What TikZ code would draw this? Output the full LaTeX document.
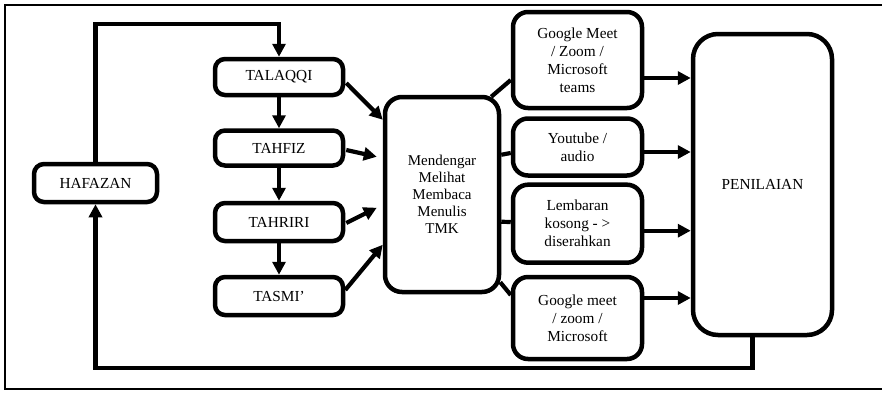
\documentclass[tikz,border=0pt]{standalone}
\usepackage{fontspec}
\setmainfont{Liberation Serif}
\usetikzlibrary{arrows.meta,calc}

\begin{document}
\begin{tikzpicture}[x=1pt,y=-1pt,
  box/.style={draw, line width=4.5pt, rounded corners=#1, inner sep=0pt,
    align=center, font=\fontsize{15.3}{18}\selectfont},
  box/.default=10pt,
  arr/.style={line width=4.2pt, -{Triangle[length=13pt,width=13pt]}},
  link/.style={line width=4.2pt},
  frame/.style={line width=2pt}]
  \useasboundingbox (0,0) rectangle (882,392);

  % outer frame (open on the right)
  \draw[frame] (882,5) -- (5,5) -- (5,389) -- (882,389);

  % left column
  \node[box, minimum width=123pt, minimum height=38pt] (hafazan) at (95.5,183) {HAFAZAN};
  \node[box, minimum width=128pt, minimum height=36pt] (talaqqi) at (279,77) {TALAQQI};
  \node[box, minimum width=128pt, minimum height=35pt] (tahfiz) at (279,148) {TAHFIZ};
  \node[box, minimum width=128pt, minimum height=38pt] (tahriri) at (279,222) {TAHRIRI};
  \node[box, minimum width=128pt, minimum height=38pt] (tasmi) at (279,296) {TASMI’};

  % centre box
  \node[box=17pt, minimum width=114pt, minimum height=195pt,
        font=\fontsize{15}{17}\selectfont] (mid) at (442,194.5)
        {Mendengar\\Melihat\\Membaca\\Menulis\\TMK};

  % media boxes
  \node[box=15pt, minimum width=129pt, minimum height=96pt] (gm) at (577.5,60)
        {Google Meet\\/ Zoom /\\Microsoft\\teams};
  \node[box=15pt, minimum width=129pt, minimum height=57pt] (yt) at (577.5,147)
        {Youtube /\\audio};
  \node[box=15pt, minimum width=129pt, minimum height=78pt] (lk) at (577.5,223.7)
        {Lembaran\\kosong - >\\diserahkan};
  \node[box=15pt, minimum width=129pt, minimum height=82pt] (gmb) at (577.5,318)
        {Google meet\\/ zoom /\\Microsoft};

  % assessment box
  \node[box=25pt, minimum width=139pt, minimum height=301pt] (pen) at (762.5,184.5) {PENILAIAN};

  % sequence down the left column
  \draw[arr] (talaqqi.south) -- (tahfiz.north);
  \draw[arr] (tahfiz.south) -- (tahriri.north);
  \draw[arr] (tahriri.south) -- (tasmi.north);

  % into the centre box
  \draw[arr] ($(talaqqi.east)+(1,6)$) -- ($(mid.north west)+(0,25)$);
  \draw[arr] ($(tahfiz.east)+(1,2)$) -- ($(mid.north west)+(-6,62)$);
  \draw[arr] ($(tahriri.east)+(1,1)$) -- ($(mid.north west)+(-6,113)$);
  \draw[arr] ($(tasmi.east)+(0,-6)$) -- ($(mid.north west)+(0,150)$);

  % centre box to media boxes
  \draw[link] ($(mid.north east)+(-10,2)$) -- ($(gm.west)+(0,20)$);
  \draw[link] ($(mid.north east)+(0,60)$) -- ($(yt.west)+(0,6)$);
  \draw[link] ($(mid.north east)+(0,127)$) -- ($(lk.west)+(0,-1.7)$);
  \draw[link] ($(mid.south east)+(-1,-12)$) -- ($(gmb.west)+(0,-23)$);

  % media boxes to assessment
  \draw[arr] ($(gm.east)+(0,18)$) coordinate (a1) -- (a1 -| pen.west);
  \draw[arr] ($(yt.east)+(0,5)$) coordinate (a2) -- (a2 -| pen.west);
  \draw[arr] ($(lk.east)+(0,7)$) coordinate (a3) -- (a3 -| pen.west);
  \draw[arr] ($(gmb.east)+(0,-20)$) coordinate (a4) -- (a4 -| pen.west);

  % feedback loops
  \coordinate (topy) at (0,24);
  \coordinate (boty) at (0,368);
  \draw[arr] (hafazan.north) -- (hafazan.north |- topy) -| (talaqqi.north);
  \draw[arr] ($(pen.south)+(-10,0)$) coordinate (pb) -- (pb |- boty) -| (hafazan.south);
\end{tikzpicture}
\end{document}
